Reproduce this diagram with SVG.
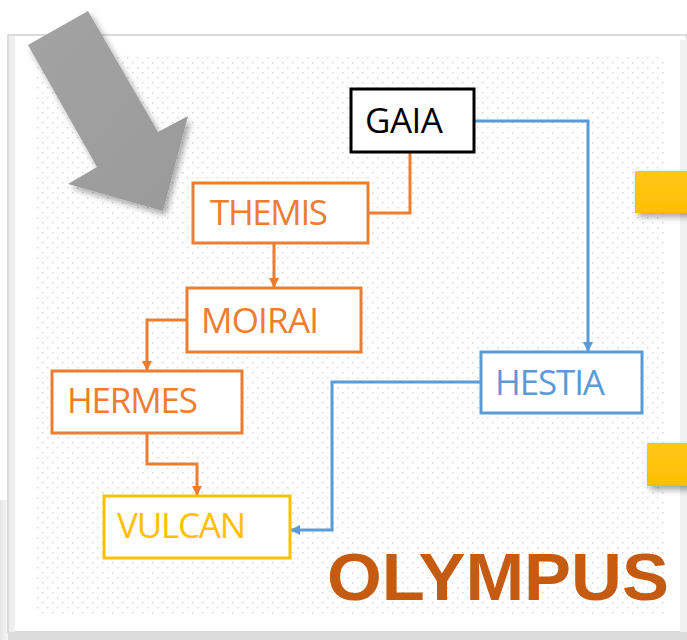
<svg xmlns="http://www.w3.org/2000/svg" width="687" height="640" viewBox="0 0 687 640">
  <defs>
    <style>
      .lbl { font-family: "Open Sans", "Liberation Sans", sans-serif; font-size: 35px; }
      .box { fill: #ffffff; stroke-width: 3; }
      .orange { stroke: #ED7D31; }
      .blue { stroke: #5B9BD5; }
      .gold { stroke: #FFC000; }
      .black { stroke: #000000; }
      .conn { fill: none; stroke-width: 3; }
    </style>
    <pattern id="dots" x="0" y="0" width="10" height="10" patternUnits="userSpaceOnUse">
      <rect x="2" y="2" width="1.5" height="1.5" fill="#d6d6d6"/>
      <rect x="7" y="7" width="1.5" height="1.5" fill="#d6d6d6"/>
    </pattern>
    <linearGradient id="arrowFill" x1="0" y1="0" x2="1" y2="1">
      <stop offset="0" stop-color="#a3a3a3"/>
      <stop offset="1" stop-color="#9a9a9a"/>
    </linearGradient>
    <linearGradient id="goldFill" x1="0" y1="0" x2="0" y2="1">
      <stop offset="0" stop-color="#FFC61A"/>
      <stop offset="1" stop-color="#FFBF00"/>
    </linearGradient>
    <linearGradient id="leftShade" x1="0" y1="0" x2="1" y2="0">
      <stop offset="0" stop-color="#dadada"/>
      <stop offset="1" stop-color="#f6f6f6"/>
    </linearGradient>
    <filter id="shadow" x="-20%" y="-20%" width="150%" height="150%">
      <feDropShadow dx="3" dy="4" stdDeviation="3" flood-color="#000" flood-opacity="0.35"/>
    </filter>
    <marker id="arrOrange" viewBox="0 0 10 10" refX="10" refY="5" markerWidth="10" markerHeight="10" markerUnits="userSpaceOnUse" orient="auto">
      <path d="M0,0 L10,5 L0,10 z" fill="#ED7D31"/>
    </marker>
    <marker id="arrBlue" viewBox="0 0 10 10" refX="10" refY="5" markerWidth="10" markerHeight="10" markerUnits="userSpaceOnUse" orient="auto">
      <path d="M0,0 L10,5 L0,10 z" fill="#5B9BD5"/>
    </marker>
  </defs>

  <!-- page and frame -->
  <rect x="0" y="0" width="687" height="640" fill="#ffffff"/>
  <rect x="0" y="500" width="9" height="140" fill="url(#leftShade)" opacity="0.7"/>
  <rect x="8" y="35" width="679" height="597" fill="#ffffff" stroke="#cfcfcf" stroke-width="1.5"/>
  <rect x="9" y="36" width="6" height="596" fill="#efefef"/>
  <rect x="680" y="40" width="7" height="592" fill="#f0f0f0"/>
  <rect x="8" y="632" width="679" height="8" fill="#dcdcdc"/>
  <rect x="35" y="57" width="630" height="560" fill="url(#dots)"/>

  <!-- decorative shapes -->
  <polygon points="28,45 88,11 158,132 188,116 163,211 68,184 97,167" fill="url(#arrowFill)" filter="url(#shadow)"/>
  <rect x="635" y="171" width="60" height="42" fill="url(#goldFill)" filter="url(#shadow)"/>
  <rect x="647" y="443" width="50" height="43" fill="url(#goldFill)" filter="url(#shadow)"/>

  <!-- connectors -->
  <g id="connectors">
    <path class="conn orange" d="M410,152 V213 H368"/>
    <path class="conn orange" d="M274,243 V288" marker-end="url(#arrOrange)"/>
    <path class="conn orange" d="M187,320 H147 V371" marker-end="url(#arrOrange)"/>
    <path class="conn orange" d="M147,433 V464 H197 V496" marker-end="url(#arrOrange)"/>
    <path class="conn blue" d="M474,121 H588 V352" marker-end="url(#arrBlue)"/>
    <path class="conn blue" d="M481,382 H332 V530 H290" marker-end="url(#arrBlue)"/>
  </g>

  <!-- nodes -->
  <g id="gaia">
    <rect class="box black" x="351" y="89" width="123" height="63"/>
    <text class="lbl" x="365" y="133" fill="#000000" textLength="78">GAIA</text>
  </g>
  <g id="themis">
    <rect class="box orange" x="193" y="183" width="175" height="60"/>
    <text class="lbl" x="210" y="225" fill="#ED7D31" textLength="118">THEMIS</text>
  </g>
  <g id="moirai">
    <rect class="box orange" x="187" y="288" width="174" height="64"/>
    <text class="lbl" x="201" y="333" fill="#ED7D31" textLength="118">MOIRAI</text>
  </g>
  <g id="hermes">
    <rect class="box orange" x="52" y="371" width="190" height="62"/>
    <text class="lbl" x="67" y="413" fill="#ED7D31" textLength="131">HERMES</text>
  </g>
  <g id="vulcan">
    <rect class="box gold" x="104" y="496" width="186" height="62"/>
    <text class="lbl" x="117" y="538" fill="#FFC000" textLength="129">VULCAN</text>
  </g>
  <g id="hestia">
    <rect class="box blue" x="481" y="352" width="161" height="61"/>
    <text class="lbl" x="495" y="395" fill="#5B9BD5" textLength="110">HESTIA</text>
  </g>

  <!-- title -->
  <text x="327" y="600" font-family="'Liberation Sans', Arial, sans-serif" font-weight="bold" font-size="66" fill="#C55A11" textLength="342" lengthAdjust="spacingAndGlyphs">OLYMPUS</text>
</svg>
